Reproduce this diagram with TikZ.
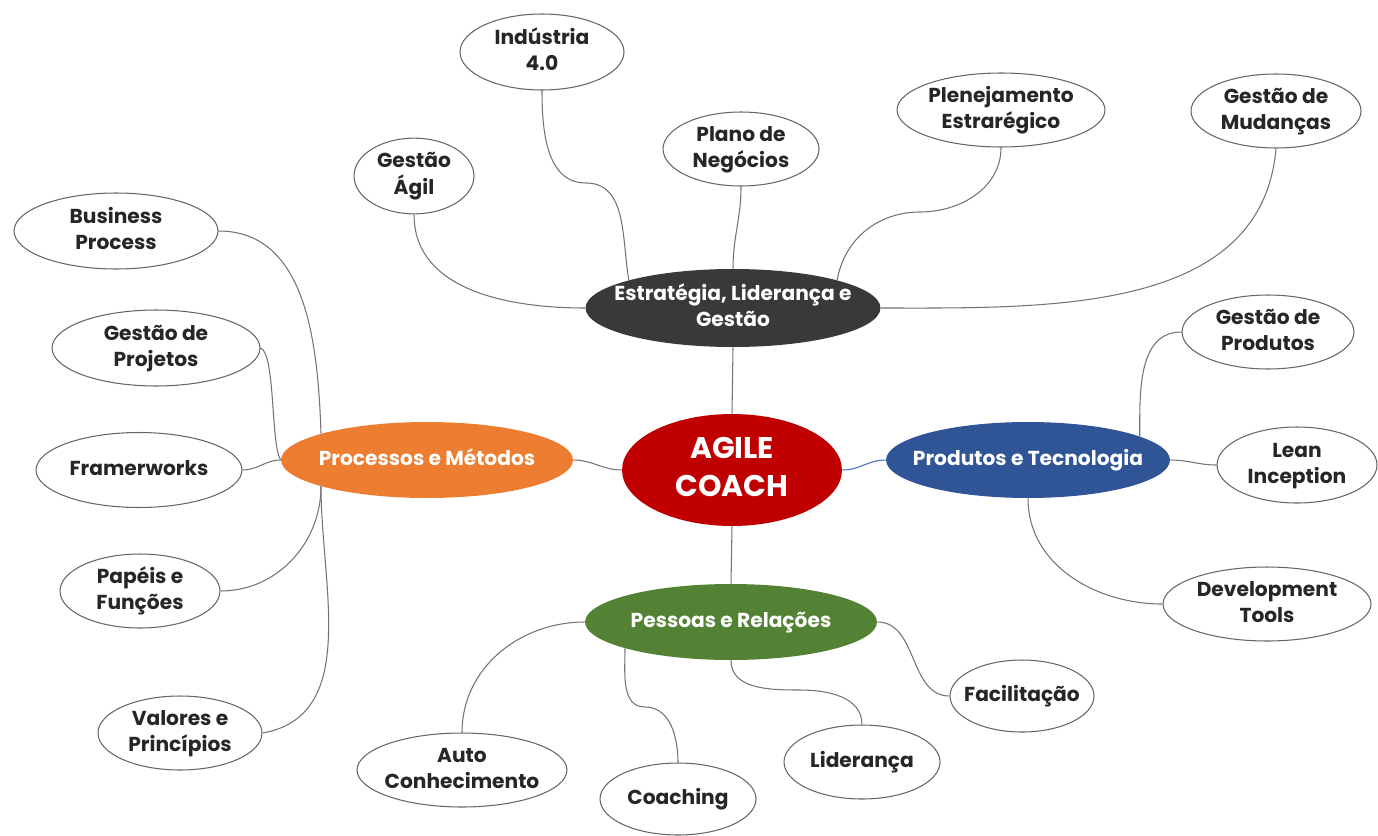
\documentclass[tikz,border=0pt]{standalone}
\usepackage{fontspec}
\setmainfont{Poppins}
\usetikzlibrary{shapes,positioning}
\definecolor{coachred}{RGB}{192,0,0}
\definecolor{strategygray}{RGB}{58,56,56}
\definecolor{processorange}{RGB}{237,125,49}
\definecolor{productblue}{RGB}{47,85,151}
\definecolor{peoplegreen}{RGB}{84,130,53}
\definecolor{linkblue}{RGB}{68,114,196}
% text that does not widen the ellipse round it
\newcommand{\mmtext}[1]{\makebox[0pt]{\raisebox{-1.6pt}{\begin{tabular}{@{}c@{}}#1\end{tabular}}}}

\begin{document}
\begin{tikzpicture}[x=0.02cm, y=-0.02cm,
    leaf/.style={draw=black!60, line width=0.6pt, ellipse, fill=white, inner sep=0pt, text=black!85, font=\bfseries\fontsize{11.5}{14.8}\selectfont},
    topic/.style={ellipse, inner sep=0pt, text=white, font=\bfseries\fontsize{11.5}{14.8}\selectfont},
    link/.style={draw=black!55, line width=0.6pt}]
    \useasboundingbox (0,0) rectangle (1378,835);

    % centre and the four topics
    \node[topic, fill=coachred, minimum width=4.4cm, minimum height=2.24cm, font=\bfseries\fontsize{17}{21.6}\selectfont] (agile) at (732,470) {\mmtext{AGILE\\COACH}};
    \node[topic, fill=strategygray, minimum width=5.9cm, minimum height=1.56cm] (est) at (733,308) {\mmtext{Estratégia, Liderança e\\Gestão}};
    \node[topic, fill=processorange, minimum width=5.84cm, minimum height=1.52cm] (proc) at (427,460) {\mmtext{Processos e Métodos}};
    \node[topic, fill=productblue, minimum width=5.68cm, minimum height=1.52cm] (prodt) at (1028,460) {\mmtext{Produtos e Tecnologia}};
    \node[topic, fill=peoplegreen, minimum width=5.84cm, minimum height=1.52cm] (pess) at (731,622) {\mmtext{Pessoas e Relações}};

    % Estratégia, Liderança e Gestão
    \node[leaf, minimum width=2.4cm, minimum height=1.48cm] (agil) at (414,176) {\mmtext{Gestão\\Ágil}};
    \node[leaf, minimum width=3.28cm, minimum height=1.52cm] (ind) at (542,52) {\mmtext{Indústria\\4.0}};
    \node[leaf, minimum width=3.12cm, minimum height=1.48cm] (plano) at (741,149) {\mmtext{Plano de\\Negócios}};
    \node[leaf, minimum width=4.16cm, minimum height=1.48cm] (plan) at (1001,110) {\mmtext{Plenejamento\\Estrarégico}};
    \node[leaf, minimum width=3.4cm, minimum height=1.48cm] (mud) at (1276,111) {\mmtext{Gestão de\\Mudanças}};

    % Processos e Métodos
    \node[leaf, minimum width=4.08cm, minimum height=1.52cm] (bp) at (116,231) {\mmtext{Business\\Process}};
    \node[leaf, minimum width=4.16cm, minimum height=1.52cm] (proj) at (156,348) {\mmtext{Gestão de\\Projetos}};
    \node[leaf, minimum width=4.12cm, minimum height=1.5cm] (frame) at (139,470) {\mmtext{Framerworks}};
    \node[leaf, minimum width=3.2cm, minimum height=1.48cm] (pap) at (140,591) {\mmtext{Papéis e\\Funções}};
    \node[leaf, minimum width=3.28cm, minimum height=1.48cm] (val) at (180,733) {\mmtext{Valores e\\Princípios}};

    % Produtos e Tecnologia
    \node[leaf, minimum width=3.44cm, minimum height=1.48cm] (gprod) at (1268,332) {\mmtext{Gestão de\\Produtos}};
    \node[leaf, minimum width=3.2cm, minimum height=1.52cm] (lean) at (1297,465) {\mmtext{Lean\\Inception}};
    \node[leaf, minimum width=4.16cm, minimum height=1.48cm] (dev) at (1267,604) {\mmtext{Development\\Tools}};

    % Pessoas e Relações
    \node[leaf, minimum width=4.2cm, minimum height=1.48cm] (auto) at (462,770) {\mmtext{Auto\\Conhecimento}};
    \node[leaf, minimum width=3.12cm, minimum height=1.44cm] (coach) at (678,799) {\mmtext{Coaching}};
    \node[leaf, minimum width=3.12cm, minimum height=1.48cm] (lid) at (862,762) {\mmtext{Liderança}};
    \node[leaf, minimum width=2.88cm, minimum height=1.44cm] (fac) at (1022,696) {\mmtext{Facilitação}};

    % links from the centre
    \draw[link] (agile.north) -- (est.south);
    \draw[link] (agile.west) to[out=180, in=0] (proc.east);
    \draw[link, draw=linkblue] (agile.east) to[out=0, in=180] (prodt.west);
    \draw[link] (agile.south) -- (pess.north);

    \draw[link] (agil.south) to[out=-90, in=180] (est.west);
    \draw[link] (ind.south) to[out=-90, in=180] (586,183) to[out=0, in=100] (est.165);
    \draw[link] (plano.south) to[out=-90, in=90] (est.north);
    \draw[link] (plan.south) to[out=-90, in=0] (920,212) to[out=180, in=80] (est.15);
    \draw[link] (mud.south) to[out=-95, in=0] (est.east);

    \draw[link] (bp.east) to[out=0, in=92] (proc.166);
    \draw[link] (proj.east) .. controls +(15,5) and +(-10,-15) .. (proc.west);
    \draw[link] (frame.east) to[out=0, in=180] (proc.west);
    \draw[link] (pap.east) to[out=0, in=-90] (proc.194);
    \draw[link] (val.east) to[out=10, in=-90] (proc.194);

    \draw[link] (gprod.west) to[out=180, in=90] (prodt.12);
    \draw[link] (prodt.east) to[out=0, in=180] (lean.west);
    \draw[link] (prodt.south) to[out=-90, in=180] (dev.west);

    \draw[link] (pess.west) to[out=180, in=90] (auto.north);
    \draw[link] (pess.194) to[out=-90, in=180] (645,707) to[out=0, in=90] (coach.north);
    \draw[link] (pess.south) to[out=-90, in=180] (800,690) to[out=0, in=90] (lid.north);
    \draw[link] (pess.east) to[out=0, in=180] (fac.west);
\end{tikzpicture}
\end{document}
